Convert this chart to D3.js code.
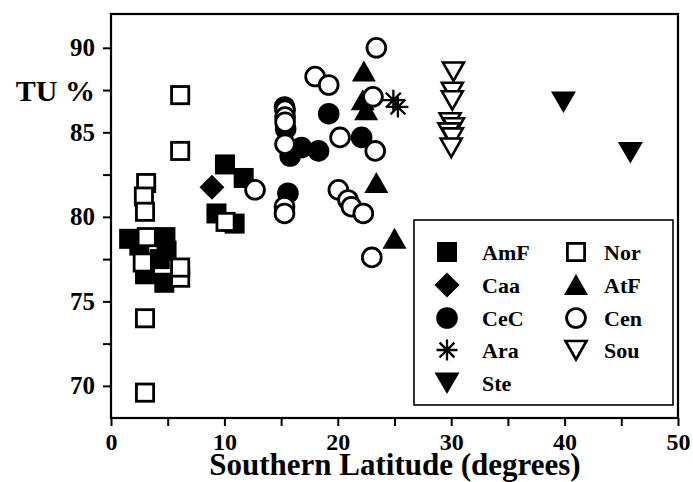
<!DOCTYPE html>
<html><head><meta charset="utf-8">
<script src="https://cdn.jsdelivr.net/npm/d3@7"></script>
<style>
html,body{margin:0;padding:0;background:#fff;}
text{font-family:"Liberation Serif","Times New Roman",serif;font-weight:bold;fill:#000;}
</style></head>
<body>
<svg id="chart" width="693" height="482"></svg>
<script>
// ---- data (Southern latitude in degrees, TU %) ----
const AmF = [[1.6,78.7],[2.5,78.3],[4.8,78.8],[4.9,78.0],[4.3,77.5],[3.0,76.6],[4.7,76.1],[9.3,80.2],[10.05,83.1],[10.9,79.6],[11.7,82.3]];
const Nor = [[6.1,87.2],[6.1,83.9],[3.1,82.0],[2.9,81.2],[3.0,80.3],[3.15,78.8],[2.8,77.3],[6.1,76.4],[6.1,77.0],[3.0,74.0],[3.0,69.6],[10.1,79.7]];
const Caa = [[8.9,81.75]];
const CeC = [[15.3,86.5],[15.4,85.2],[15.8,83.6],[16.8,84.1],[18.3,83.9],[19.2,86.1],[22.1,84.7],[15.6,81.4]];
const AtF = [[22.3,88.6],[22.2,86.9],[22.5,86.3],[23.4,82.0],[25.0,78.7]];
const Cen = [[12.7,81.6],[15.35,86.3],[15.35,85.9],[15.35,85.6],[15.35,84.3],[15.3,80.6],[15.3,80.2],[18.0,88.3],[19.2,87.8],[20.2,84.7],[20.05,81.6],[20.9,81.0],[21.2,80.6],[22.25,80.2],[23.0,77.6],[23.1,87.1],[23.3,83.9],[23.4,90.0]];
const Ara = [[24.9,86.9],[25.3,86.5]];
const Sou = [[30.2,88.6],[30.1,87.4],[30.1,86.9],[29.9,85.6],[30.2,85.3],[29.8,85.0],[30.1,84.7],[30.0,84.1]];
const Ste = [[39.9,86.8],[45.8,83.8]];

const xTicks = [0,5,10,15,20,25,30,35,40,45,50];
const yTicks = [70,72.5,75,77.5,80,82.5,85,87.5,90];
const legendLeft = ["AmF","Caa","CeC","Ara","Ste"];
const legendRight = ["Nor","AtF","Cen","Sou"];

const series = {AmF, Nor, Caa, CeC, AtF, Cen, Ara, Sou, Ste};
const drawOrder = ["AmF","Nor","Caa","CeC","AtF","Cen","Ara","Sou","Ste"];

// ---- layout ----
const svg = d3.select("#chart");
const L = 111, R = 678, T = 14, B = 418;
const x = d3.scaleLinear().domain([0,50]).range([L,R]);
const y = d3.scaleLinear().domain([68.1,92]).range([B,T]);

// symbol painters
function paint(g, name, cx, cy) {
  const s = g.append("g").attr("transform", `translate(${cx},${cy})`);
  switch (name) {
    case "AmF":
      s.append("rect").attr("x",-10).attr("y",-10).attr("width",20).attr("height",20).attr("fill","#000");
      break;
    case "Nor":
      s.append("rect").attr("x",-8.6).attr("y",-8.6).attr("width",17.2).attr("height",17.2)
        .attr("fill","#fff").attr("stroke","#000").attr("stroke-width",2.8);
      break;
    case "Caa":
      s.append("path").attr("d","M0,-12.5L12.5,0L0,12.5L-12.5,0Z").attr("fill","#000");
      break;
    case "CeC":
      s.append("circle").attr("r",10.8).attr("fill","#000");
      break;
    case "Cen":
      s.append("circle").attr("r",9.4).attr("fill","#fff").attr("stroke","#000").attr("stroke-width",2.8);
      break;
    case "AtF":
      s.append("path").attr("d","M0,-11L12,10L-12,10Z").attr("fill","#000");
      break;
    case "Ste":
      s.append("path").attr("d","M-12.5,-10.5L12.5,-10.5L0,11Z").attr("fill","#000");
      break;
    case "Sou":
      s.append("path").attr("d","M-10.5,-9L10.5,-9L0,9.5Z").attr("fill","#fff")
        .attr("stroke","#000").attr("stroke-width",2.6).attr("stroke-linejoin","miter");
      break;
    case "Ara": {
      const r = 10.5;
      const dd = [];
      for (let k = 0; k < 4; k++) {
        const a = k * Math.PI / 4;
        dd.push(`M${-r*Math.cos(a)},${-r*Math.sin(a)}L${r*Math.cos(a)},${r*Math.sin(a)}`);
      }
      s.append("path").attr("d", dd.join("")).attr("stroke","#000").attr("stroke-width",2.3).attr("fill","none");
      break;
    }
  }
}

// axes
const xAxis = d3.axisBottom(x).tickValues(xTicks).tickSize(8).tickSizeOuter(0).tickPadding(7)
  .tickFormat(d => d % 10 === 0 ? d : "");
const gx = svg.append("g").attr("transform", `translate(0,${B})`).call(xAxis);
gx.select(".domain").remove();
gx.selectAll("line").attr("stroke","#000").attr("stroke-width",2);
gx.selectAll("text").attr("font-size",24).style("font-family",'"Liberation Serif","Times New Roman",serif').style("font-weight","bold");

const yAxis = d3.axisLeft(y).tickValues(yTicks).tickSize(8).tickSizeOuter(0).tickPadding(8)
  .tickFormat(d => d % 5 === 0 ? d : "");
const gy = svg.append("g").attr("transform", `translate(${L},0)`).call(yAxis);
gy.select(".domain").remove();
gy.selectAll("line").attr("stroke","#000").attr("stroke-width",2);
gy.selectAll("text").attr("font-size",25).style("font-family",'"Liberation Serif","Times New Roman",serif').style("font-weight","bold");

// frame
svg.append("rect").attr("x",L).attr("y",T).attr("width",R-L).attr("height",B-T)
  .attr("fill","none").attr("stroke","#000").attr("stroke-width",2.2);

// points
const gp = svg.append("g");
drawOrder.forEach(name => {
  series[name].forEach(d => paint(gp, name, x(d[0]), y(d[1])));
});

// legend
const lg = svg.append("g");
lg.append("rect").attr("x",414).attr("y",220).attr("width",259).attr("height",185)
  .attr("fill","#fff").attr("stroke","#000").attr("stroke-width",1.6);
const rowY = [252,285,318,350,383];
legendLeft.forEach((n,i) => {
  paint(lg, n, 447, rowY[i]);
  lg.append("text").attr("x",482).attr("y",rowY[i]+8).attr("font-size",22).text(n);
});
legendRight.forEach((n,i) => {
  paint(lg, n, 576, rowY[i]);
  lg.append("text").attr("x",604).attr("y",rowY[i]+8).attr("font-size",22).text(n);
});

// axis titles
svg.append("text").attr("x",395).attr("y",475).attr("text-anchor","middle").attr("font-size",31)
  .text("Southern Latitude (degrees)");
svg.append("text").attr("x",95).attr("y",101).attr("text-anchor","end").attr("font-size",30)
  .text("TU %");
</script>
</body></html>
